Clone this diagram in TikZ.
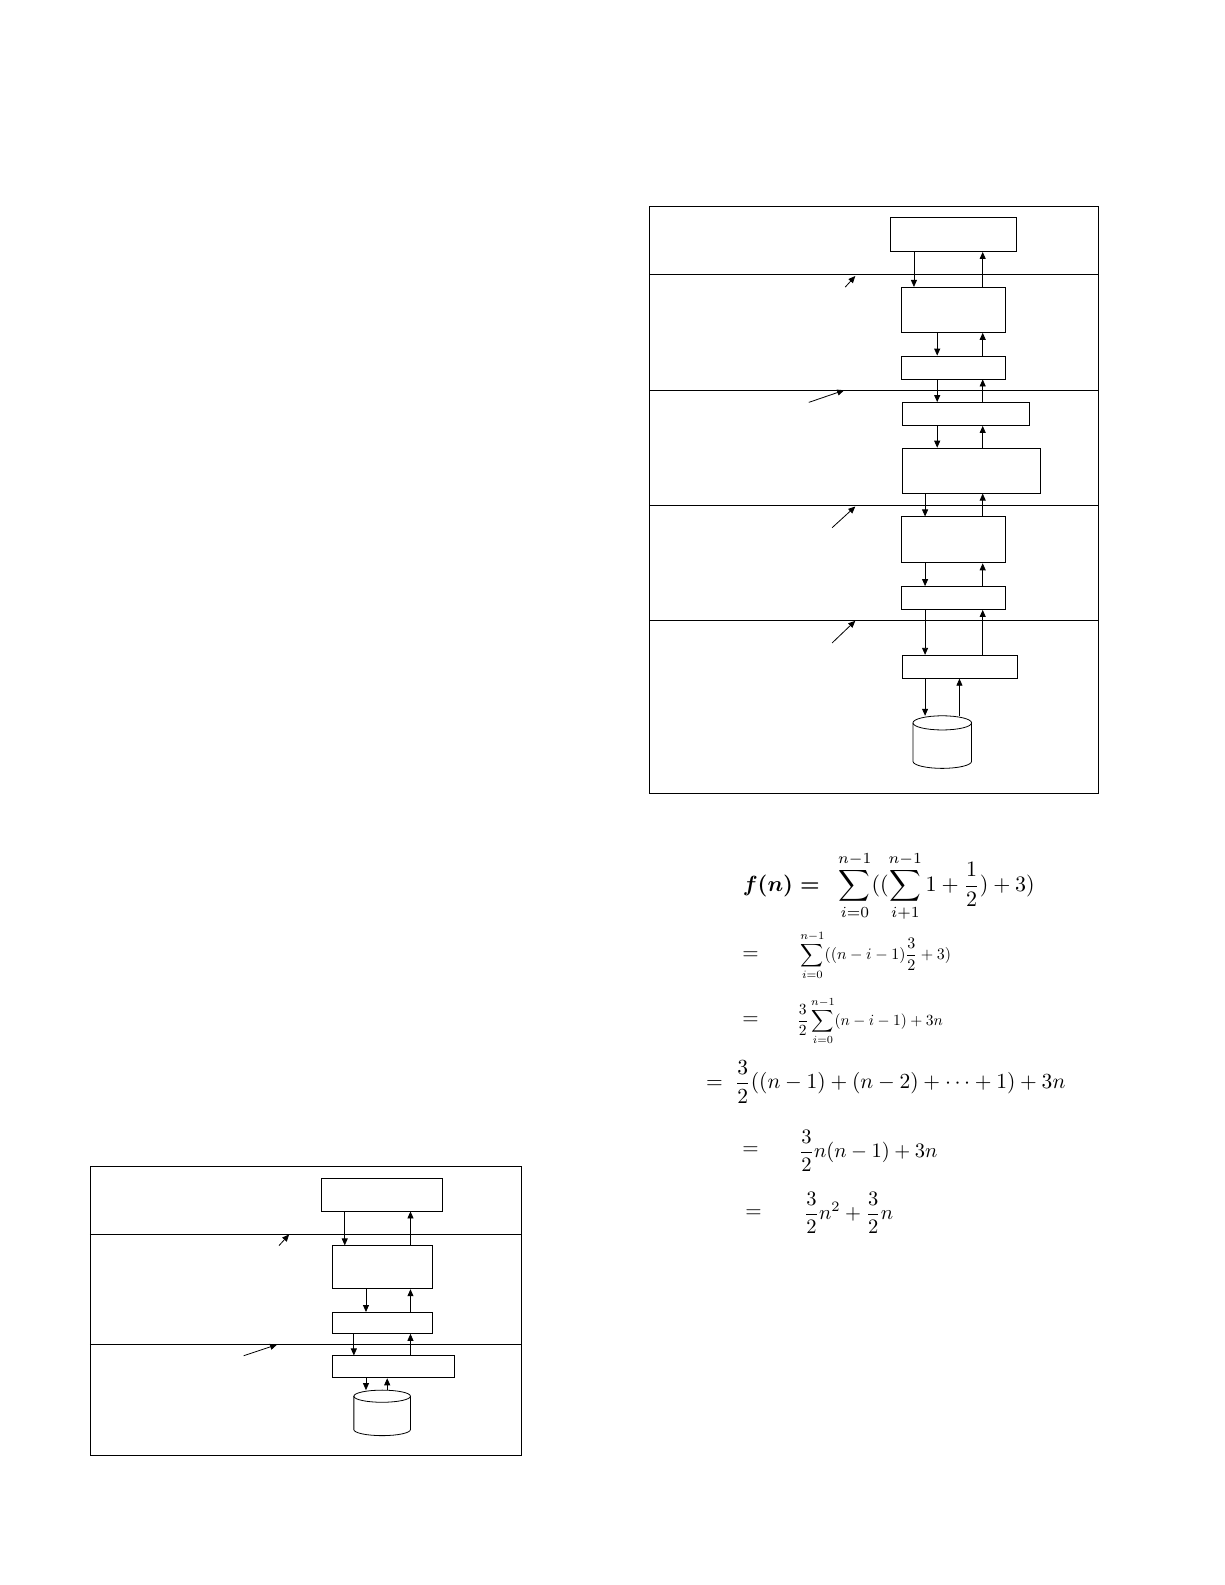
\documentclass[tikz,border=0pt]{standalone}
\usepackage{amsmath}
\usetikzlibrary{arrows.meta}
\begin{document}
\begin{tikzpicture}[x=1pt,y=-1pt,
  bx/.style={draw,thick,fill=white},
  ar/.style={-{Triangle[length=7pt,width=6pt]},thick},
  ln/.style={thick}]
\useasboundingbox (0,0) rectangle (1225,1585);
\begin{scope}[x=1.011pt,y=-1.011pt]
% right diagram
\draw[ln] (642,204) rectangle (1086,785);
\foreach \y in {271,386,500,614} \draw[ln] (642,\y) -- (1086,\y);
\node[bx,minimum width=126pt,minimum height=34pt] (r1) at (943.5,232) {};
\node[bx,minimum width=104pt,minimum height=45pt] (r2) at (943.5,306.5) {};
\node[bx,minimum width=104pt,minimum height=23pt] (r3) at (943.5,363.5) {};
\node[bx,minimum width=127pt,minimum height=23pt] (r4) at (955,409.5) {};
\node[bx,minimum width=138pt,minimum height=45pt] (r5) at (960.5,465.5) {};
\node[bx,minimum width=104pt,minimum height=46pt] (r6) at (943.5,534) {};
\node[bx,minimum width=104pt,minimum height=23pt] (r7) at (943.5,591.5) {};
\node[bx,minimum width=115pt,minimum height=23pt] (r8) at (949,659.5) {};
\coordinate (rc) at (932,708);
\draw[thick] (903,715) -- (903,753) arc[start angle=180,end angle=360,x radius=29,y radius=-7] -- (961,715);
\draw[thick] (932,715) ellipse[x radius=29,y radius=7];
\draw[ar] (r1.south -| 904,0) -- (r2.north -| 904,0);
\draw[ar] (r2.north -| 972,0) -- (r1.south -| 972,0);
\draw[ar] (r2.south -| 927,0) -- (r3.north -| 927,0);
\draw[ar] (r3.north -| 972,0) -- (r2.south -| 972,0);
\draw[ar] (r3.south -| 927,0) -- (r4.north -| 927,0);
\draw[ar] (r4.north -| 972,0) -- (r3.south -| 972,0);
\draw[ar] (r4.south -| 927,0) -- (r5.north -| 927,0);
\draw[ar] (r5.north -| 972,0) -- (r4.south -| 972,0);
\draw[ar] (r5.south -| 915,0) -- (r6.north -| 915,0);
\draw[ar] (r6.north -| 972,0) -- (r5.south -| 972,0);
\draw[ar] (r6.south -| 915,0) -- (r7.north -| 915,0);
\draw[ar] (r7.north -| 972,0) -- (r6.south -| 972,0);
\draw[ar] (r7.south -| 915,0) -- (r8.north -| 915,0);
\draw[ar] (r8.north -| 972,0) -- (r7.south -| 972,0);
\draw[ar] (r8.south -| 915,0) -- (rc -| 915,0);
\draw[ar] (rc -| 949,0) -- (r8.south -| 949,0);
\coordinate (d1a) at (836,284); \coordinate (d1b) at (846,273);
\coordinate (d2a) at (800,398); \coordinate (d2b) at (835,386);
\coordinate (d3a) at (823,522); \coordinate (d3b) at (846,501);
\coordinate (d4a) at (823,636); \coordinate (d4b) at (846,614);
\foreach \i in {1,2,3,4} \draw[ar] (d\i a) -- (d\i b);
% left diagram
\draw[ln] (89,1154) rectangle (516,1440);
\foreach \y in {1221,1330} \draw[ln] (89,\y) -- (516,\y);
\node[bx,minimum width=121pt,minimum height=33pt] (l1) at (378,1181.5) {};
\node[bx,minimum width=100pt,minimum height=43pt] (l2) at (378.5,1253.5) {};
\node[bx,minimum width=100pt,minimum height=21pt] (l3) at (378.5,1308.5) {};
\node[bx,minimum width=122pt,minimum height=22pt] (l4) at (389.5,1352) {};
\coordinate (lc) at (378,1375);
\draw[thick] (350,1381) -- (350,1414) arc[start angle=180,end angle=360,x radius=28,y radius=-6] -- (406,1381);
\draw[thick] (378,1381) ellipse[x radius=28,y radius=6];
\draw[ar] (l1.south -| 341,0) -- (l2.north -| 341,0);
\draw[ar] (l2.north -| 406,0) -- (l1.south -| 406,0);
\draw[ar] (l2.south -| 362,0) -- (l3.north -| 362,0);
\draw[ar] (l3.north -| 406,0) -- (l2.south -| 406,0);
\draw[ar] (l3.south -| 350,0) -- (l4.north -| 350,0);
\draw[ar] (l4.north -| 406,0) -- (l3.south -| 406,0);
\draw[ar] (l4.south -| 362,0) -- (lc -| 362,0);
\draw[ar] (lc -| 383,0) -- (l4.south -| 383,0);
\coordinate (e1a) at (276,1232); \coordinate (e1b) at (286,1221);
\coordinate (e2a) at (241,1341); \coordinate (e2b) at (274,1330);
\foreach \i in {1,2} \draw[ar] (e\i a) -- (e\i b);
% math
\node[anchor=west,scale=2.2] (m0) at (727,877) {$\boldsymbol{f(n)=}\;\;\displaystyle\sum_{i=0}^{n-1}((\sum_{i+1}^{n-1}1+\frac{1}{2})+3)$};
\node[anchor=west,scale=2.1] (q2) at (727,945) {$=$};
\node[anchor=west,scale=1.6] (m2) at (786,945) {$\displaystyle\sum_{i=0}^{n-1}((n-i-1)\frac{3}{2}+3)$};
\node[anchor=west,scale=2.1] (q3) at (727,1010) {$=$};
\node[anchor=west,scale=1.55] (m3) at (783,1010) {$\displaystyle\frac{3}{2}\sum_{i=0}^{n-1}(n-i-1)+3n$};
\node[anchor=west,scale=2.15] (m4) at (691,1070) {$=\;\displaystyle\frac{3}{2}((n-1)+(n-2)+\cdots+1)+3n$};
\node[anchor=west,scale=2.1] (q5) at (727,1138) {$=$};
\node[anchor=west,scale=2.05] (m5) at (783,1138) {$\displaystyle\frac{3}{2}n(n-1)+3n$};
\node[anchor=west,scale=2.1] (q6) at (730,1200) {$=$};
\node[anchor=west,scale=2.05] (m6) at (788,1200) {$\displaystyle\frac{3}{2}n^2+\frac{3}{2}n$};
\end{scope}
\end{tikzpicture}
\end{document}
